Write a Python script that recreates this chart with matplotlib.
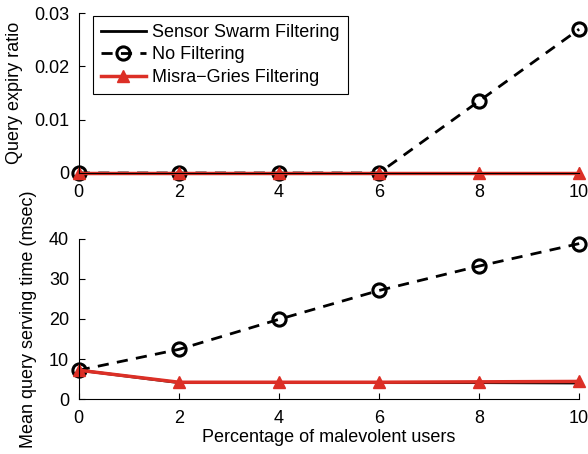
import numpy as np
import matplotlib
matplotlib.use('Agg')
import matplotlib.pyplot as plt

plt.rcParams['font.family'] = ['Liberation Sans', 'DejaVu Sans']
plt.rcParams['font.size'] = 13

# percentage of malevolent users
pct = [0, 2, 4, 6, 8, 10]

# query expiry ratio
expiry_swarm = [0, 0, 0, 0, 0, 0]
expiry_none = [0, 0, 0, 0, 0.0135, 0.027]
expiry_mg = [0, 0, 0, 0, 0, 0]

# mean query serving time (msec)
serve_swarm = [7.2, 4.1, 4.1, 4.1, 4.1, 4.0]
serve_none = [7.2, 12.4, 19.9, 27.1, 33.2, 38.8]
serve_mg = [7.2, 4.2, 4.2, 4.2, 4.3, 4.4]

labels = ['Sensor Swarm Filtering', 'No Filtering', 'Misra\u2212Gries Filtering']
red = '#dc2f26'

fig = plt.figure(figsize=(5.88, 4.54), dpi=100)
ax1 = fig.add_axes([0.134, 0.619, 0.851, 0.352])
ax2 = fig.add_axes([0.134, 0.121, 0.851, 0.353])


def draw(ax, a, b, c):
    ax.plot(pct, a, '-', color='k', lw=2, clip_on=False, label=labels[0])
    ax.plot(pct, b, '--', color='k', lw=2, marker='o', ms=9.5, mfc='none',
            mew=2.2, dashes=(4, 3), clip_on=False, label=labels[1])
    ax.plot(pct, c, '-', color=red, lw=2.5, marker='^', ms=8, mfc=red,
            mec=red, clip_on=False, label=labels[2])
    for s in ['top', 'right']:
        ax.spines[s].set_visible(False)
    ax.spines['left'].set_linewidth(0.8)
    ax.spines['bottom'].set_linewidth(0.8)
    ax.tick_params(direction='in', length=4, width=0.8, labelsize=13)
    ax.tick_params(axis='x', pad=8)
    ax.tick_params(axis='y', pad=7)
    ax.set_xlim(0, 10)
    ax.set_xticks(pct)


draw(ax1, expiry_swarm, expiry_none, expiry_mg)
ax1.set_ylim(0, 0.03)
ax1.set_yticks([0, 0.01, 0.02, 0.03])
ax1.set_yticklabels(['0', '0.01', '0.02', '0.03'])
ax1.set_ylabel('Query expiry ratio')
ax1.yaxis.set_label_coords(-0.112, 0.5)
leg = ax1.legend(loc='upper left', bbox_to_anchor=(0.028, 0.983), borderaxespad=0,
                 fancybox=False, edgecolor='k', framealpha=1, handlelength=2.5,
                 borderpad=0.45, labelspacing=0.3, handletextpad=0.35)
leg.get_frame().set_linewidth(0.8)

draw(ax2, serve_swarm, serve_none, serve_mg)
ax2.set_ylim(0, 40)
ax2.set_yticks([0, 10, 20, 30, 40])
ax2.set_ylabel('Mean query serving time (msec)')
ax2.yaxis.set_label_coords(-0.084, 0.5)
ax2.set_xlabel('Percentage of malevolent users', labelpad=1)

fig.savefig('out.png', dpi=100)
